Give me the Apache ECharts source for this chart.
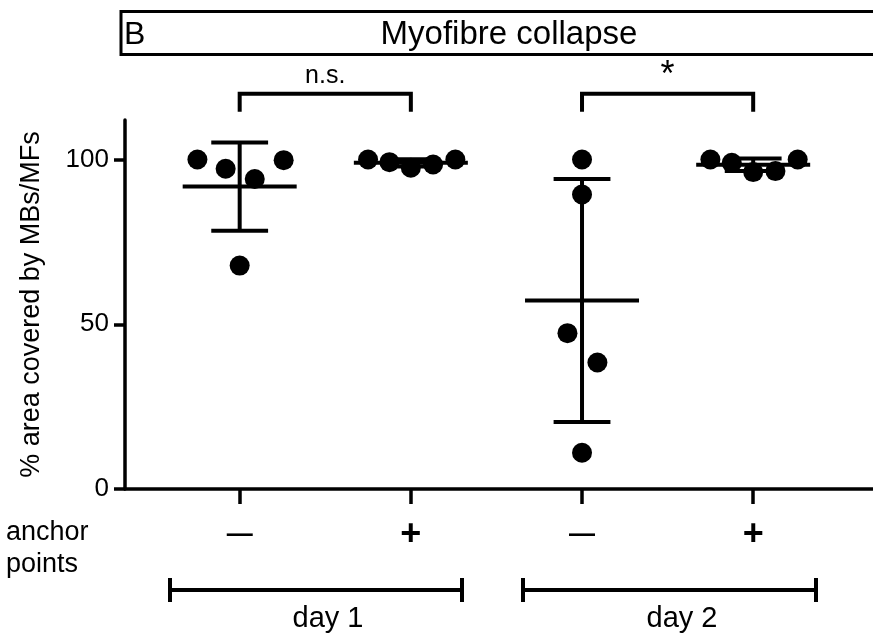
<!DOCTYPE html>
<html>
<head>
<meta charset="utf-8">
<script src="https://cdn.jsdelivr.net/npm/echarts@6/dist/echarts.min.js"></script>
<style>html,body{margin:0;padding:0;background:#fff;}#c{width:873px;height:634px;}</style>
</head>
<body>
<div id="c"></div>
<script>
// ---- data ----
const groupPositions = [1, 2, 3, 4];
const anchorLabels = ['—', '+', '—', '+'];
const dayLabels = ['day 1', 'day 2'];
const yTicks = [0, 50, 100];

const day1Minus = [100, 97.2, 94.1, 99.8, 67.8];
const day1MinusJitter = [-0.247, -0.082, 0.088, 0.257, 0];
const day1Plus = [100, 99.2, 97.5, 98.5, 100];
const day1PlusJitter = [-0.25, -0.125, 0, 0.13, 0.26];
const day2Minus = [100, 89.4, 47.3, 38.4, 11.0];
const day2MinusJitter = [0, 0, -0.085, 0.09, 0];
const day2Plus = [100, 99.0, 96.2, 96.5, 100];
const day2PlusJitter = [-0.25, -0.125, 0, 0.13, 0.26];

const means = [91.8, 99.0, 57.2, 98.4];
const sds = [13.4, 1.1, 36.9, 1.9];

const sigPairs = [[1, 2], [3, 4]];
const sigLabels = ['n.s.', '*'];

// ---- build ----
const groups = [
  [day1Minus, day1MinusJitter],
  [day1Plus, day1PlusJitter],
  [day2Minus, day2MinusJitter],
  [day2Plus, day2PlusJitter]
];
const pointData = [];
groups.forEach((g, i) => {
  g[0].forEach((v, j) => pointData.push([groupPositions[i] + g[1][j], v]));
});
const barData = groupPositions.map((p, i) => [p, means[i], sds[i]]);
const sigData = sigPairs.map((p, i) => [p[0], p[1], i]);

const MEAN_HALF = 0.333, CAP_HALF = 0.166;
const BLACK = '#000';
const FONT = 'Liberation Sans, Arial, Helvetica, sans-serif';

const chart = echarts.init(document.getElementById('c'));
chart.setOption({
  animation: false,
  backgroundColor: '#fff',
  textStyle: { fontFamily: FONT, color: BLACK },
  grid: { left: 125, right: 0, top: 120, bottom: 145 },
  xAxis: {
    type: 'value', min: 0.33, max: 4.7,
    splitLine: { show: false },
    axisLine: { lineStyle: { color: BLACK, width: 3.5 } },
    axisTick: { customValues: groupPositions, length: 15, lineStyle: { color: BLACK, width: 3.5 } },
    axisLabel: {
      customValues: groupPositions,
      margin: 30,
      formatter: v => {
        const t = anchorLabels[Math.round(v) - 1];
        return t === '+' ? '{p|' + t + '}' : '{m|' + t + '}';
      },
      rich: {
        p: { fontSize: 36, fontWeight: 'bold', lineHeight: 32, color: BLACK, fontFamily: FONT },
        m: { fontSize: 26, fontWeight: 'bold', lineHeight: 32, color: BLACK, fontFamily: FONT }
      }
    }
  },
  yAxis: {
    type: 'value', min: 0, max: 112,
    splitLine: { show: false },
    name: '% area covered by MBs/MFs',
    nameLocation: 'middle', nameGap: 80,
    nameTextStyle: { fontSize: 27, color: BLACK, fontFamily: FONT },
    axisLine: { show: true, lineStyle: { color: BLACK, width: 3.5 } },
    axisTick: { show: true, customValues: yTicks, length: 11, lineStyle: { color: BLACK, width: 3.5 } },
    axisLabel: { customValues: yTicks, fontSize: 26, margin: 16, color: BLACK, fontFamily: FONT }
  },
  series: [
    {
      type: 'scatter', data: pointData, symbol: 'circle', symbolSize: 20,
      itemStyle: { color: BLACK, opacity: 1 }, z: 2
    },
    {
      type: 'custom', data: barData, z: 3,
      renderItem: (params, api) => {
        const x = api.value(0), m = api.value(1), s = api.value(2);
        const top = api.coord([x, m + s]);
        const bot = api.coord([x, m - s]);
        const ml = api.coord([x - MEAN_HALF, m]);
        const mr = api.coord([x + MEAN_HALF, m]);
        const cl = api.coord([x - CAP_HALF, m])[0];
        const cr = api.coord([x + CAP_HALF, m])[0];
        const st = { stroke: BLACK, lineWidth: 4 };
        return {
          type: 'group', children: [
            { type: 'line', shape: { x1: top[0], y1: top[1], x2: bot[0], y2: bot[1] }, style: st },
            { type: 'line', shape: { x1: ml[0], y1: ml[1], x2: mr[0], y2: mr[1] }, style: st },
            { type: 'line', shape: { x1: cl, y1: top[1], x2: cr, y2: top[1] }, style: st },
            { type: 'line', shape: { x1: cl, y1: bot[1], x2: cr, y2: bot[1] }, style: st }
          ]
        };
      }
    },
    {
      type: 'custom', data: sigData, z: 3, clip: false,
      renderItem: (params, api) => {
        const a = api.value(0), b = api.value(1), idx = api.value(2);
        const p1 = api.coord([a, 120]);
        const p2 = api.coord([b, 120]);
        const legY = api.coord([a, 114.5])[1];
        const st = { stroke: BLACK, lineWidth: 4, fill: null };
        const label = sigLabels[idx];
        const isStar = label === '*';
        return {
          type: 'group', children: [
            { type: 'polyline', shape: { points: [[p1[0], legY], [p1[0], p1[1]], [p2[0], p2[1]], [p2[0], legY]] }, style: st },
            { type: 'text', style: {
              text: label, x: (p1[0] + p2[0]) / 2, y: p1[1] - (isStar ? 0 : 5),
              align: 'center', verticalAlign: 'bottom',
              fontSize: isStar ? 36 : 25, fontFamily: FONT, fill: BLACK
            } }
          ]
        };
      }
    }
  ],
  graphic: [
    { type: 'rect', shape: { x: 121, y: 11.5, width: 800, height: 43 }, style: { fill: '#fff', stroke: BLACK, lineWidth: 3 } },
    { type: 'text', style: { text: 'B', x: 124, y: 35, verticalAlign: 'middle', fontSize: 32, fontFamily: FONT, fill: BLACK } },
    { type: 'text', style: { text: 'Myofibre collapse', x: 509, y: 35, align: 'center', verticalAlign: 'middle', fontSize: 33, fontFamily: FONT, fill: BLACK } },
    { type: 'text', style: { text: 'anchor', x: 6, y: 533, verticalAlign: 'middle', fontSize: 27, fontFamily: FONT, fill: BLACK } },
    { type: 'text', style: { text: 'points', x: 6, y: 565, verticalAlign: 'middle', fontSize: 27, fontFamily: FONT, fill: BLACK } },
    { type: 'polyline', shape: { points: [[170, 578], [170, 602]] }, style: { stroke: BLACK, lineWidth: 4 } },
    { type: 'polyline', shape: { points: [[170, 590], [462, 590]] }, style: { stroke: BLACK, lineWidth: 4 } },
    { type: 'polyline', shape: { points: [[462, 578], [462, 602]] }, style: { stroke: BLACK, lineWidth: 4 } },
    { type: 'polyline', shape: { points: [[523, 578], [523, 602]] }, style: { stroke: BLACK, lineWidth: 4 } },
    { type: 'polyline', shape: { points: [[523, 590], [816, 590]] }, style: { stroke: BLACK, lineWidth: 4 } },
    { type: 'polyline', shape: { points: [[816, 578], [816, 602]] }, style: { stroke: BLACK, lineWidth: 4 } },
    { type: 'text', style: { text: dayLabels[0], x: 328, y: 619, align: 'center', verticalAlign: 'middle', fontSize: 29, fontFamily: FONT, fill: BLACK } },
    { type: 'text', style: { text: dayLabels[1], x: 682, y: 619, align: 'center', verticalAlign: 'middle', fontSize: 29, fontFamily: FONT, fill: BLACK } }
  ]
});
</script>
</body>
</html>
